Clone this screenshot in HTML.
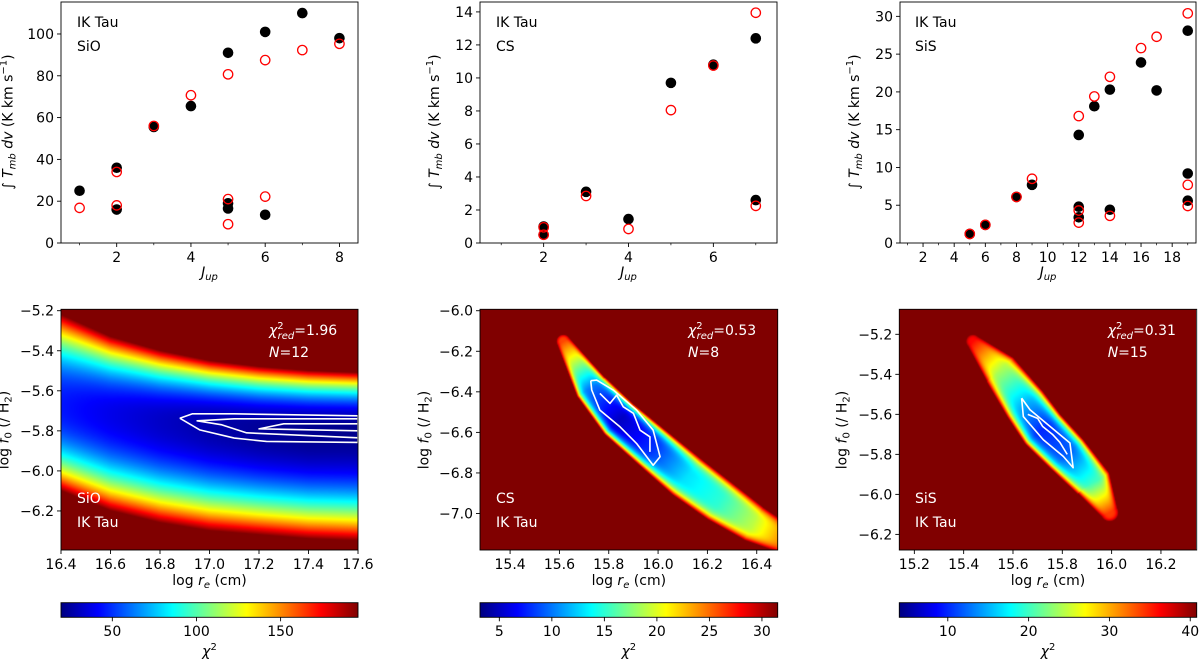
<!DOCTYPE html>
<html><head><meta charset="utf-8"><style>
html,body{margin:0;padding:0;background:#fff;width:1200px;height:660px;overflow:hidden}
#wrap{position:relative;width:1200px;height:660px}
canvas{position:absolute}
svg{position:absolute;left:0;top:0}
text{font-family:"DejaVu Sans","Liberation Sans",sans-serif;}
</style></head><body>
<div id="wrap">
<canvas id="hm1"></canvas>
<canvas id="hm2"></canvas>
<canvas id="hm3"></canvas>
<svg id="svg" width="1200" height="660" xmlns="http://www.w3.org/2000/svg"></svg>
</div>
<script>
// ---------- top panel data ----------
const sioObsJ=[1,2,2,3,4,5,5,5,6,6,7,8];
const sioObsI=[25,36,16,55.5,65.5,91,19,16.5,101,13.5,110,98];
const sioModJ=[1,2,2,3,4,5,5,5,6,6,7,8];
const sioModI=[16.8,34,18,56,70.7,80.7,21,9,87.5,22.2,92.3,95.3];
const csObsJ=[2,2,3,4,5,6,7,7];
const csObsI=[1.0,0.5,3.1,1.45,9.7,10.8,12.4,2.6];
const csModJ=[2,2,3,4,5,6,7,7];
const csModI=[0.95,0.5,2.85,0.85,8.05,10.75,13.95,2.25];
const sisObsJ=[5,6,8,9,12,12,12,13,14,14,16,17,19,19,19];
const sisObsI=[1.2,2.4,6.1,7.7,14.3,4.8,3.4,18.1,20.3,4.4,23.9,20.2,28.1,9.2,5.6];
const sisModJ=[5,6,8,9,12,12,12,13,14,14,16,17,19,19,19];
const sisModI=[1.2,2.4,6.1,8.5,16.8,4.3,2.7,19.4,22,3.6,25.8,27.3,30.4,7.7,4.9];
const sioYTicks=[0,20,40,60,80,100];
const csYTicks=[0,2,4,6,8,10,12,14];
const sisYTicks=[0,5,10,15,20,25,30];
// ---------- bottom panel data ----------
const sioGridX=[16.4,16.6,16.8,17.0,17.2,17.4,17.6];
const sioCenter=[-5.68,-5.72,-5.75,-5.77,-5.79,-5.80,-5.80];
const sioUpper=[-5.22,-5.33,-5.40,-5.45,-5.48,-5.50,-5.51];
const sioLower=[-6.10,-6.20,-6.26,-6.30,-6.32,-6.34,-6.35];
const sioMin=[45,38,32,27,24,22,22];
const sioContourA=[[16.88,-5.737],[16.93,-5.715],[17.1,-5.715],[17.6,-5.725],[17.6,-5.858],[17.23,-5.853],[17.1,-5.836],[16.96,-5.795],[16.88,-5.737]];
const sioContourB=[[17.6,-5.74],[17.1,-5.74],[16.95,-5.75],[17.05,-5.77],[17.15,-5.81],[17.6,-5.835]];
const sioContourC=[[17.6,-5.765],[17.3,-5.765],[17.2,-5.79],[17.6,-5.80]];
const csLineX=[15.616,15.73,15.845,15.98,16.116,16.25,16.386,16.5];
const csLineY=[-6.153,-6.38,-6.54,-6.68,-6.82,-6.94,-7.05,-7.12];
const csHalfW=[7,17,21,22,23,22,19,15];
const csMin=[26,10,5,8,13,15,19,24];
const csContourA=[[15.727,-6.345],[15.751,-6.342],[15.818,-6.391],[15.913,-6.49],[15.98,-6.589],[16.008,-6.72],[15.98,-6.762],[15.913,-6.655],[15.846,-6.573],[15.764,-6.49],[15.731,-6.391],[15.727,-6.345]];
const csContourB=[[15.764,-6.408],[15.805,-6.457],[15.832,-6.416],[15.859,-6.474],[15.9,-6.506],[15.927,-6.589],[15.967,-6.622],[15.967,-6.696]];
const sisLineX=[15.439,15.55,15.65,15.723,15.82,15.925,15.993];
const sisLineY=[-5.237,-5.38,-5.55,-5.677,-5.80,-5.942,-6.092];
const sisHalfW=[7,18,22,23,22,19,9];
const sisMin=[36,24,15,10,12,20,34];
const sisContourA=[[15.635,-5.519],[15.669,-5.577],[15.75,-5.66],[15.831,-5.743],[15.844,-5.867],[15.804,-5.81],[15.723,-5.727],[15.642,-5.611],[15.635,-5.519]];
const sisContourB=[[15.66,-5.60],[15.70,-5.62],[15.72,-5.66],[15.76,-5.70],[15.79,-5.74],[15.82,-5.80]];
const sioCbTicks=[50,100,150];
const csCbTicks=[5,10,15,20,25,30];
const sisCbTicks=[10,20,30,40];
const p4YTicks=[-5.2,-5.4,-5.6,-5.8,-6.0,-6.2];
const p4XTicks=[16.4,16.6,16.8,17.0,17.2,17.4,17.6];
const p5YTicks=[-6.0,-6.2,-6.4,-6.6,-6.8,-7.0];
const p5XTicks=[15.4,15.6,15.8,16.0,16.2,16.4];
const p6YTicks=[-5.2,-5.4,-5.6,-5.8,-6.0,-6.2];
const p6XTicks=[15.2,15.4,15.6,15.8,16.0,16.2];

const NS="http://www.w3.org/2000/svg";
const svg=document.getElementById('svg');
function mk(tag,attrs,parent){const e=document.createElementNS(NS,tag);for(const k in attrs)e.setAttribute(k,attrs[k]);(parent||svg).appendChild(e);return e;}
function fmt(v,d){const s=Math.abs(v).toFixed(d);return (v<0?"\u2212":"")+s;}
function axis(box,xd,yd){return{box,x:v=>box.l+(v-xd[0])/(xd[1]-xd[0])*(box.r-box.l),y:v=>box.b-(v-yd[0])/(yd[1]-yd[0])*(box.b-box.t)};}
function jet(t){t=Math.max(0,Math.min(1,t));const c=x=>Math.max(0,Math.min(1,1.5-Math.abs(x)));return[c(4*t-3)*255,c(4*t-2)*255,c(4*t-1)*255];}
function interp(xs,ys,x){if(x<=xs[0])return ys[0];for(let i=1;i<xs.length;i++){if(x<=xs[i]){const f=(x-xs[i-1])/(xs[i]-xs[i-1]);return ys[i-1]+f*(ys[i]-ys[i-1]);}}return ys[ys.length-1];}

function drawFrame(ax,name){
  const b=ax.box;
  const r=mk('rect',{x:b.l,y:b.t,width:b.r-b.l,height:b.b-b.t,fill:'none',stroke:'#000','stroke-width':0.9});
  
  
}
function xTicks(ax,ticks,dec,name,minor){
  const g=mk('g',{});
  
  
  ticks.forEach(t=>{const x=ax.x(t);mk('line',{x1:x,x2:x,y1:ax.box.b,y2:ax.box.b+4,stroke:'#000','stroke-width':0.9},g);
    const tx=mk('text',{x:x,y:ax.box.b+19,'font-size':14,'text-anchor':'middle'},g);tx.textContent=fmt(t,dec);});
  (minor||[]).forEach(t=>{const x=ax.x(t);mk('line',{x1:x,x2:x,y1:ax.box.b,y2:ax.box.b+2.2,stroke:'#000','stroke-width':0.7},g);});
}
function yTicks(ax,ticks,dec,name){
  const g=mk('g',{});
  
  
  ticks.forEach(t=>{const y=ax.y(t);mk('line',{x1:ax.box.l-4,x2:ax.box.l,y1:y,y2:y,stroke:'#000','stroke-width':0.9},g);
    const tx=mk('text',{x:ax.box.l-7,y:y+5,'font-size':14,'text-anchor':'end'},g);tx.textContent=fmt(t,dec);});
}
function label(x,y,html,rot,name,size,fill){
  const t=mk('text',{x:x,y:y,'font-size':size||14,'text-anchor':'middle',fill:fill||'#000',transform:rot?`rotate(-90 ${x} ${y})`:''});
  t.innerHTML=html;
  
  
  return t;
}
function note(x,y,html,name,fill){const t=mk('text',{x:x,y:y,'font-size':14,fill:fill||'#000'});t.innerHTML=html;
  
  }

// ---------- top panels ----------
function scatterPanel(ax,oJ,oI,mJ,mI,name){
  oJ.forEach((j,i)=>{const c=mk('circle',{cx:ax.x(j),cy:ax.y(oI[i]),r:5.3,fill:'#000'});
    
    });
  mJ.forEach((j,i)=>{const c=mk('circle',{cx:ax.x(j),cy:ax.y(mI[i]),r:4.7,fill:'none',stroke:'#ff0000','stroke-width':1.3});
    
    });
}
const yl='\u222B <tspan font-style="italic">T</tspan><tspan font-style="italic" font-size="10" dy="3">mb</tspan><tspan dy="-3"> </tspan><tspan font-style="italic">dv</tspan> (K km s<tspan font-size="10" dy="-6">\u22121</tspan><tspan dy="6">)</tspan>';
const xl='<tspan font-style="italic">J</tspan><tspan font-style="italic" font-size="10" dy="3">up</tspan>';
const a1=axis({l:61,r:358,t:2,b:243},[0.5,8.5],[0,115.3]);
const a2=axis({l:480,r:777,t:2,b:243},[0.5,7.5],[0,14.6]);
const a3=axis({l:900,r:1196,t:2,b:243},[0.52,19.53],[0,31.9]);
[[a1,'sio-lines',sioObsJ,sioObsI,sioModJ,sioModI,sioYTicks,[2,4,6,8],[1,3,5,7],'SiO',77,12.5],
 [a2,'cs-lines',csObsJ,csObsI,csModJ,csModI,csYTicks,[2,4,6],[1,3,5,7],'CS',496,439],
 [a3,'sis-lines',sisObsJ,sisObsI,sisModJ,sisModI,sisYTicks,[2,4,6,8,10,12,14,16,18],[1,3,5,7,9,11,13,15,17,19],'SiS',915,859]].forEach(p=>{
  const [ax,nm,oJ,oI,mJ,mI,yt,xt,mn,mol,nx,ylx]=p;
  xTicks(ax,xt,0,nm,mn);yTicks(ax,yt,0,nm);
  scatterPanel(ax,oJ,oI,mJ,mI,nm);
  drawFrame(ax,nm);
  note(nx,27,'IK Tau',nm+'-source-label');note(nx,51,mol,nm+'-molecule-label');
  label(ylx,122,yl,true,nm+'-y-axis-title');
  label((ax.box.l+ax.box.r)/2,277,xl,false,nm+'-x-axis-title');
});

// ---------- bottom panels ----------
const a4=axis({l:61,r:358,t:309.3,b:550},[16.4,17.6],[-6.395,-5.193]);
const a5=axis({l:480,r:777.7,t:309.3,b:550},[15.278,16.485],[-7.18,-5.993]);
const a6=axis({l:899.3,r:1196.7,t:309.3,b:550},[15.139,16.345],[-6.278,-5.075]);
const sioRange=[19.5,196],csRange=[3.16,31.5],sisRange=[4.0,40.8];

function paint(id,ax,rng,fn){
  const b=ax.box,w=Math.round(b.r-b.l),h=Math.round(b.b-b.t);
  const cv=document.getElementById(id);cv.width=w;cv.height=h;cv.style.left=b.l+'px';cv.style.top=b.t+'px';
  const ctx=cv.getContext('2d');const im=ctx.createImageData(w,h);
  for(let j=0;j<h;j++)for(let i=0;i<w;i++){
    const chi=fn(b.l+i+0.5,b.t+j+0.5);const c=jet((chi-rng[0])/(rng[1]-rng[0]));
    const k=(j*w+i)*4;im.data[k]=c[0];im.data[k+1]=c[1];im.data[k+2]=c[2];im.data[k+3]=255;}
  ctx.putImageData(im,0,0);
}
function invX(ax,xd,px){return xd[0]+(px-ax.box.l)/(ax.box.r-ax.box.l)*(xd[1]-xd[0]);}
function invY(ax,yd,py){return yd[0]+(ax.box.b-py)/(ax.box.b-ax.box.t)*(yd[1]-yd[0]);}
// SiO valley
paint('hm1',a4,sioRange,(px,py)=>{
  const x=invX(a4,[16.4,17.6],px),y=invY(a4,[-6.395,-5.193],py);
  const c=interp(sioGridX,sioCenter,x),m=interp(sioGridX,sioMin,x);
  const w=y>c?interp(sioGridX,sioUpper,x)-c:c-interp(sioGridX,sioLower,x);
  const d=Math.abs(y-c)/w;return m+(sioRange[1]-m)*Math.pow(d,2.3);});
// band model
function bandFn(ax,LX,LY,HW,MN,rng,pw){
  const P=LX.map((x,i)=>[ax.x(x),ax.y(LY[i])]);
  return (px,py)=>{let best=1e9,bw=0,bm=0;
    for(let i=1;i<P.length;i++){const [x0,y0]=P[i-1],[x1,y1]=P[i];const dx=x1-x0,dy=y1-y0;
      let t=((px-x0)*dx+(py-y0)*dy)/(dx*dx+dy*dy);t=Math.max(0,Math.min(1,t));
      const qx=x0+t*dx,qy=y0+t*dy,d=Math.hypot(px-qx,py-qy);
      if(d<best){best=d;bw=HW[i-1]+t*(HW[i]-HW[i-1]);bm=MN[i-1]+t*(MN[i]-MN[i-1]);}}
    const r=best/bw;return bm+(rng[1]-bm)*Math.pow(r,pw);};
}
paint('hm2',a5,csRange,bandFn(a5,csLineX,csLineY,csHalfW,csMin,csRange,4));
paint('hm3',a6,sisRange,bandFn(a6,sisLineX,sisLineY,sisHalfW,sisMin,sisRange,4));

function contour(ax,pts,name){
  const p=mk('polyline',{points:pts.map(q=>ax.x(q[0])+','+ax.y(q[1])).join(' '),fill:'none',stroke:'#fff','stroke-width':1.6,'stroke-linejoin':'round'});
  
  
}
contour(a4,sioContourA,'sio-contour-outer');contour(a4,sioContourB,'sio-contour-mid');contour(a4,sioContourC,'sio-contour-inner');
contour(a5,csContourA,'cs-contour-outer');contour(a5,csContourB,'cs-contour-inner');
contour(a6,sisContourA,'sis-contour-outer');contour(a6,sisContourB,'sis-contour-inner');

const ylb='log <tspan font-style="italic">f</tspan><tspan font-size="10" dy="3">0</tspan><tspan dy="-3"> (/ H</tspan><tspan font-size="10" dy="3">2</tspan><tspan dy="-3">)</tspan>';
const xlb='log <tspan font-style="italic">r</tspan><tspan font-style="italic" font-size="10" dy="3">e</tspan><tspan dy="-3"> (cm)</tspan>';
const chiL='<tspan font-style="italic">\u03C7</tspan><tspan font-size="10" dy="-6">2</tspan>';
function chiRed(v){return '<tspan font-style="italic">\u03C7</tspan><tspan font-size="10" dy="-6">2</tspan><tspan font-size="10" font-style="italic" dx="-6" dy="10">red</tspan><tspan dy="-4">='+v+'</tspan>';}
[[a4,'sio-map',p4XTicks,p4YTicks,'1.96','12','SiO',77,269,8.5,sioRange,sioCbTicks],
 [a5,'cs-map',p5XTicks,p5YTicks,'0.53','8','CS',496,688,428.5,csRange,csCbTicks],
 [a6,'sis-map',p6XTicks,p6YTicks,'0.31','15','SiS',915,1107.7,846.7,sisRange,sisCbTicks]].forEach((p,idx)=>{
  const [ax,nm,xt,yt,cr,n,mol,mx,cx,ylx,rng,cbt]=p;
  xTicks(ax,xt,1,nm);yTicks(ax,yt,1,nm);drawFrame(ax,nm);
  note(cx,335,chiRed(cr),nm+'-chi2-red-label','#fff');
  note(cx,357,'<tspan font-style="italic">N</tspan>='+n,nm+'-n-label','#fff');
  note(mx,503,mol,nm+'-molecule-label','#fff');note(mx,527,'IK Tau',nm+'-source-label','#fff');
  label(ylx,430,ylb,true,nm+'-y-axis-title');
  label((ax.box.l+ax.box.r)/2,585,xlb,false,nm+'-x-axis-title');
  const gid='jetg'+idx;const defs=mk('defs',{});const lg=mk('linearGradient',{id:gid,x1:0,x2:1,y1:0,y2:0},defs);
  for(let s=0;s<=8;s++){const c=jet(s/8);mk('stop',{offset:s/8,'stop-color':`rgb(${c.map(Math.round).join(',')})`},lg);}
  const b=ax.box;const cb=mk('rect',{x:b.l,y:602.7,width:b.r-b.l,height:14.6,fill:`url(#${gid})`,stroke:'#000','stroke-width':0.9});
  
  
  const cs=v=>b.l+(v-rng[0])/(rng[1]-rng[0])*(b.r-b.l);
  cbt.forEach(t=>{const x=cs(t);mk('line',{x1:x,x2:x,y1:617.3,y2:621.3,stroke:'#000','stroke-width':0.9});
    const tx=mk('text',{x:x,y:636,'font-size':14,'text-anchor':'middle'});tx.textContent=String(t);
    
    });
  label((b.l+b.r)/2,656,chiL,false,nm+'-colorbar-title');
});
</script>
</body></html>
